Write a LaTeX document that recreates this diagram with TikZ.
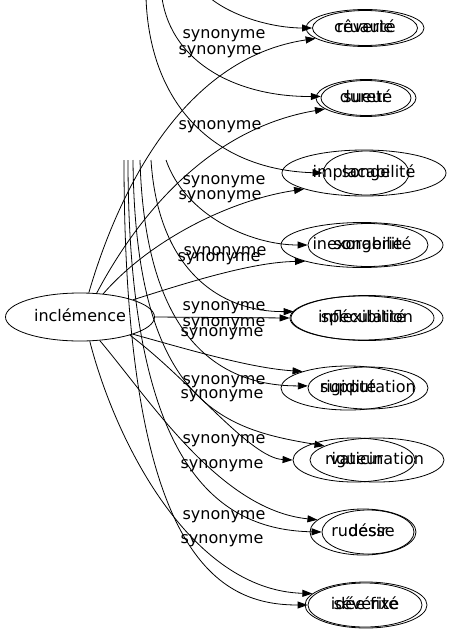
\documentclass[tikz,border=0pt]{standalone}
\usepackage{fontspec}
\setmainfont{DejaVu Sans}
\usetikzlibrary{shapes.geometric,arrows.meta}
\newcommand{\zw}[1]{\makebox[0pt]{#1}}
\begin{document}
\begin{tikzpicture}[x=1pt,y=-1pt,
  ell/.style={draw, ellipse, inner sep=0pt, line width=0.8pt, text height=12pt, text depth=3.5pt, font=\fontsize{16}{19}\selectfont},
  syn/.style={line width=0.8pt, -{Triangle[length=10pt,width=7pt]}},
  lbl/.style={inner sep=0pt, font=\fontsize{16}{19}\selectfont}]
\useasboundingbox (0,0) rectangle (450,635);
% central node
\node[ell, minimum width=149pt, minimum height=48pt] (inc) at (80,317) {\zw{inclémence}};
% row 1
\node[ell, minimum width=118pt, minimum height=37pt] (cru) at (365,28) {\zw{cruauté}};
\node[ell, minimum width=105pt, minimum height=35pt] (rev) at (365,28) {\zw{rêverie}};
% row 2
\node[ell, minimum width=100pt, minimum height=37pt] (dur) at (366,98) {\zw{dureté}};
\node[ell, minimum width=90pt, minimum height=35pt] (sue) at (366,98) {\zw{sueur}};
% row 3
\node[ell, minimum width=164pt, minimum height=46pt] (imp) at (364,173) {\zw{implacabilité}};
\node[ell, minimum width=86pt, minimum height=44pt] (son) at (366,173) {\zw{songe}};
% row 4
\node[ell, minimum width=162pt, minimum height=45pt] (inx) at (362,245) {\zw{inexorabilité}};
\node[ell, minimum width=120pt, minimum height=43pt] (sge) at (368,245) {\zw{songerie}};
% row 5
\node[ell, minimum width=144pt, minimum height=44pt] (inf) at (362,318) {\zw{inflexibilité}};
\node[ell, minimum width=152pt, minimum height=45pt] (spe) at (367,318) {\zw{spéculation}};
% row 6
\node[ell, minimum width=134pt, minimum height=44pt] (rig) at (348,388) {\zw{rigidité}};
\node[ell, minimum width=120pt, minimum height=42pt] (sup) at (368,388) {\zw{supputation}};
% row 7
\node[ell, minimum width=122pt, minimum height=44pt] (rgu) at (354,460) {\zw{rigueur}};
\node[ell, minimum width=134pt, minimum height=44pt] (vat) at (377,460) {\zw{vaticination}};
% row 8
\node[ell, minimum width=106pt, minimum height=46pt] (rud) at (363,532) {\zw{rudesse}};
\node[ell, minimum width=92pt, minimum height=44pt] (des) at (368,532) {\zw{désir}};
% row 9
\node[ell, minimum width=122pt, minimum height=46pt] (sev) at (366,605) {\zw{sévérité}};
\node[ell, minimum width=114pt, minimum height=44pt] (ide) at (365,605) {\zw{idée fixe}};
% free ends of the edges coming from above
\coordinate (t1) at (210,-2);
\coordinate (t2) at (162,-2);
\coordinate (t3) at (146,-2);
\coordinate (t4) at (166,160);
\coordinate (t5) at (151,160);
\coordinate (t6) at (140,160);
\coordinate (t7) at (133,160);
\coordinate (t8) at (128,160);
\coordinate (t9) at (124,160);
% edges from inclémence
\draw[syn] (inc.70) .. controls (110,220) and (170,60) .. (cru.192);
\draw[syn] (inc.55) .. controls (130,230) and (200,130) .. (dur.195);
\draw[syn] (inc.45) .. controls (150,240) and (230,200) .. (imp.195);
\draw[syn] (inc.18) .. controls (180,285) and (250,262) .. (inx.196);
\draw[syn] (inc.east) -- (inf.west);
\draw[syn] (inc.-18) .. controls (190,350) and (250,368) .. (rig.160);
\draw[syn] (inc.-20) .. controls (190,380) and (250,458) .. (rgu.west);
\draw[syn] (inc.-50) .. controls (150,400) and (220,510) .. (rud.165);
\draw[syn] (inc.-68) .. controls (115,440) and (190,590) .. (sev.168);
% edges from above
\draw[syn] (t1) .. controls (235,18) and (275,28) .. (rev.180);
\draw[syn] (t2) .. controls (172,65) and (240,97) .. (sue.178);
\draw[syn] (t3) .. controls (150,110) and (220,170) .. (son.180);
\draw[syn] (t4) .. controls (185,215) and (250,245) .. (sge.180);
\draw[syn] (t5) .. controls (158,270) and (220,312) .. (spe.175);
\draw[syn] (t6) .. controls (145,340) and (220,386) .. (sup.178);
\draw[syn] (t7) .. controls (135,410) and (230,430) .. (vat.165);
\draw[syn] (t8) .. controls (128,470) and (220,530) .. (des.180);
\draw[syn] (t9) .. controls (124,560) and (220,605) .. (ide.180);
% labels
\node[lbl] (l1) at (224,36) {synonyme};
\node[lbl] (l2) at (220,52) {synonyme};
\node[lbl] (l3) at (220,127) {synonyme};
\node[lbl] (l4) at (224,182) {synonyme};
\node[lbl] (l5) at (220,197) {synonyme};
\node[lbl] (l6) at (225,253) {synonyme};
\node[lbl] (l7) at (219,259) {synonyme};
\node[lbl] (l8) at (224,308) {synonyme};
\node[lbl] (l9) at (224,324) {synonyme};
\node[lbl] (l10) at (222,334) {synonyme};
\node[lbl] (l11) at (224,382) {synonyme};
\node[lbl] (l12) at (222,396) {synonyme};
\node[lbl] (l13) at (224,441) {synonyme};
\node[lbl] (l14) at (222,466) {synonyme};
\node[lbl] (l15) at (224,517) {synonyme};
\node[lbl] (l16) at (222,541) {synonyme};
\end{tikzpicture}
\end{document}
